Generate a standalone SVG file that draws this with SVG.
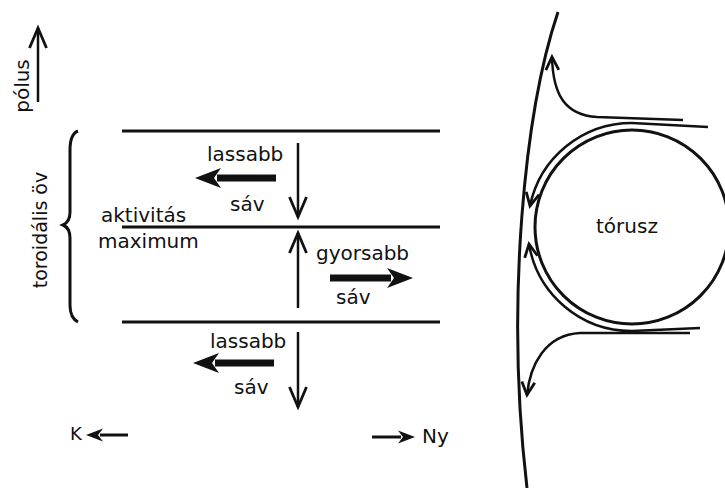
<svg xmlns="http://www.w3.org/2000/svg" width="725" height="488" viewBox="0 0 725 488">
<style>
text{font-family:"DejaVu Sans","Liberation Sans",sans-serif;font-size:20px;fill:#111}
.ln{stroke:#111;stroke-width:3;fill:none}
.thin{stroke:#111;stroke-width:2.5;fill:none}
.thick{stroke:#111;stroke-width:7;fill:none}
</style>
<defs>
<marker id="v" markerUnits="userSpaceOnUse" viewBox="-22 -11 26 22" markerWidth="26" markerHeight="22" refX="0" refY="0" orient="auto">
<path d="M-20,-8.5 L0,0 L-20,8.5" fill="none" stroke="#111" stroke-width="2.8"/>
</marker>
<marker id="vs" markerUnits="userSpaceOnUse" viewBox="-16 -9 20 18" markerWidth="20" markerHeight="18" refX="0" refY="0" orient="auto">
<path d="M-13,-6.5 L0,0 L-13,6.5" fill="none" stroke="#111" stroke-width="2.8"/>
</marker>
<marker id="tk" markerUnits="userSpaceOnUse" viewBox="-10 -12 34 24" markerWidth="34" markerHeight="24" refX="0" refY="0" orient="auto">
<path d="M22,0 L-4,-10 L3,0 L-4,10 Z" fill="#111"/>
</marker>
<marker id="sm" markerUnits="userSpaceOnUse" viewBox="-6 -8 22 16" markerWidth="22" markerHeight="16" refX="0" refY="0" orient="auto">
<path d="M14,0 L-3,-6.5 L2,0 L-3,6.5 Z" fill="#111"/>
</marker>
</defs>

<g id="layers">
<line class="ln" x1="122" y1="131" x2="440" y2="131"/>
<line class="ln" x1="122" y1="227" x2="440" y2="227"/>
<line class="ln" x1="122" y1="322" x2="440" y2="322"/>
</g>

<g id="brace">
<path d="M78,131 Q70,134 70,150 L70,212 Q70,222 63,225 Q70,228 70,238 L70,305 Q70,318 78,322" stroke="#111" stroke-width="3" fill="none"/>
</g>

<g id="torus">
<circle cx="632" cy="227" r="97" class="ln"/>
<text x="596" y="233">tórusz</text>
</g>

<g id="boundary">
<path class="ln" d="M558,12 C525,110 505,300 527,488"/>
</g>

<g id="connectors">
<line class="thin" x1="38" y1="102" x2="38" y2="28" marker-end="url(#v)"/>
<line class="thin" x1="298" y1="143" x2="298" y2="217" marker-end="url(#v)"/>
<line class="thin" x1="298" y1="308" x2="298" y2="233" marker-end="url(#v)"/>
<line class="thin" x1="298" y1="332" x2="298" y2="407" marker-end="url(#v)"/>
<line class="thick" x1="276" y1="178" x2="217" y2="178" marker-end="url(#tk)"/>
<line class="thick" x1="330" y1="278" x2="391" y2="278" marker-end="url(#tk)"/>
<line class="thick" x1="274" y1="363" x2="215" y2="363" marker-end="url(#tk)"/>
<line class="ln" x1="128" y1="435" x2="100" y2="435" marker-end="url(#sm)"/>
<line class="ln" x1="372" y1="437" x2="401" y2="437" marker-end="url(#sm)"/>
<path class="thin" d="M683,120 L597,117 C565,115 553,95 552,57" marker-end="url(#vs)"/>
<path class="thin" d="M708,127 L632,123 A104,104 0 0 0 530,206" marker-end="url(#vs)"/>
<path class="thin" d="M700,328 L632,331 A104,104 0 0 1 529,244" marker-end="url(#vs)"/>
<path class="thin" d="M690,333 L580,333 C545,335 530,365 527,395" marker-end="url(#vs)"/>
</g>

<g id="labels">
<text transform="translate(29,86) rotate(-90)" text-anchor="middle">pólus</text>
<text transform="translate(47,230) rotate(-90)" text-anchor="middle" style="font-size:19px">toroidális öv</text>
<text x="207" y="161">lassabb</text>
<text x="230" y="211">sáv</text>
<text x="101" y="222">aktivitás</text>
<text x="98" y="248">maximum</text>
<text x="316" y="260">gyorsabb</text>
<text x="336" y="304">sáv</text>
<text x="210" y="348">lassabb</text>
<text x="234" y="394">sáv</text>
<text x="70" y="440" style="font-size:18px">K</text>
<text x="422" y="443">Ny</text>
</g>
</svg>
